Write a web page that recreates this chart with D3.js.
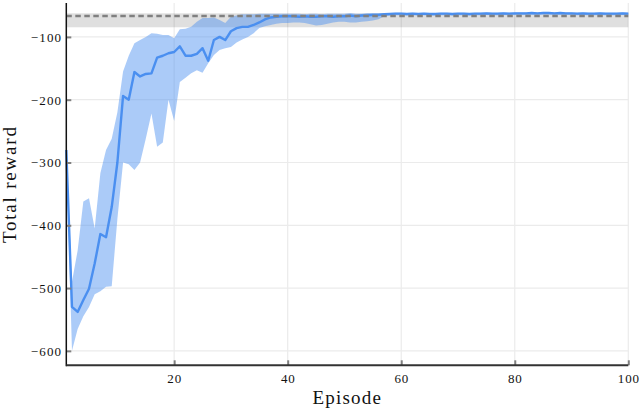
<!DOCTYPE html>
<html>
<head>
<meta charset="utf-8">
<script src="https://cdn.jsdelivr.net/npm/d3@7"></script>
<style>
  html, body { margin: 0; padding: 0; background: #fff; }
  svg { display: block; }
  text { font-family: "Liberation Serif", "DejaVu Serif", serif; fill: #111; }
</style>
</head>
<body>
<svg id="chart" width="640" height="410"></svg>
<script>
// ---- data ----
const episodes = d3.range(1, 101);
const meanReward = [
  -280, -530, -538, -519, -501, -461, -414, -419, -371, -300,
  -194, -200, -156, -163, -159, -158, -133, -130, -126, -124,
  -115, -130, -130, -127, -118, -138, -105, -100, -105, -91,
  -86, -84, -84, -81, -77, -72, -69, -68, -67, -67,
  -67, -68, -67, -68, -68, -67, -67, -68, -67, -67,
  -66, -67, -66, -66, -65, -65, -64, -63.5, -63, -63,
  -63.5, -63, -63.5, -63, -63.5, -63.5, -63, -63, -63.5, -63,
  -63, -63.5, -63, -63, -62.5, -63, -63, -62.5, -63, -62.5,
  -62.5, -62.5, -62, -62.5, -62, -62, -62.5, -62, -62.5, -62.5,
  -63, -62.5, -63, -63, -62.5, -63, -63, -63, -62.5, -63
];
const upperReward = [
  -275, -490, -440, -362, -357, -405, -317, -280, -262, -220,
  -155, -130, -110, -105, -100, -94, -95, -97, -97, -102,
  -88, -87, -84, -76, -70, -70, -69, -73, -78, -68,
  -66, -64, -64, -64, -63, -63, -63, -63, -63, -63,
  -63, -63, -64, -63, -63, -64, -63, -63, -63, -63,
  -62, -63, -63, -62, -62, -62, -62, -62, -61.5, -61.5,
  -62, -61.5, -62, -61.5, -62, -62, -61.5, -61.5, -62, -61.5,
  -61.5, -62, -61.5, -61.5, -61, -61.5, -61.5, -61, -61.5, -61,
  -61, -61, -60.5, -61, -60.5, -60.5, -61, -60.5, -61, -61,
  -61.5, -61, -61.5, -61.5, -61, -61.5, -61.5, -61.5, -61, -61.5
];
const lowerReward = [
  -285, -600, -565, -545, -530, -510, -505, -498, -497, -390,
  -300, -303, -312, -300, -262, -222, -275, -268, -200, -234,
  -172, -165, -158, -153, -157, -142, -129, -121, -118, -116,
  -109, -104, -100, -94, -86, -83, -81, -79, -78, -78,
  -77, -77, -78, -80, -82, -81, -79, -77, -76, -76,
  -77, -77, -76, -75, -74, -72, -67, -66, -65.5, -65.5,
  -66, -65.5, -66, -65.5, -66, -66, -65.5, -65.5, -66, -65.5,
  -65.5, -66, -65.5, -65.5, -65, -65.5, -65.5, -65, -65.5, -65,
  -65, -65, -64.5, -65, -64.5, -64.5, -65, -64.5, -65, -65,
  -65.5, -65, -65.5, -65.5, -65, -65.5, -65.5, -65.5, -65, -65.5
];
const referenceLevel = -66.7;
const referenceBand = [-84.7, -62.4];
const xTicks = [20, 40, 60, 80, 100];
const yTicks = [-600, -500, -400, -300, -200, -100];
const xLabel = "Episode";
const yLabel = "Total reward";

// ---- layout ----
const svg = d3.select("#chart");
const L = 66.3, R = 628.3, T = 3, B = 365.3;
const x = d3.scaleLinear().domain([1, 100]).range([L, R]);
const y = d3.scaleLinear().domain([-623, -46]).range([B, T]);

const rows = episodes.map((e, i) => ({ e, m: meanReward[i], lo: lowerReward[i], hi: upperReward[i] }));

// grid
const grid = svg.append("g");
grid.selectAll("line.gx").data(xTicks).join("line")
  .attr("x1", d => x(d)).attr("x2", d => x(d)).attr("y1", T).attr("y2", B)
  .attr("stroke", "#ebebeb").attr("stroke-width", 1.2);
grid.selectAll("line.gy").data(yTicks).join("line")
  .attr("x1", L).attr("x2", R).attr("y1", d => y(d)).attr("y2", d => y(d))
  .attr("stroke", "#ebebeb").attr("stroke-width", 1.2);

// reference band
svg.append("rect")
  .attr("x", L).attr("width", R - L)
  .attr("y", y(referenceBand[1])).attr("height", y(referenceBand[0]) - y(referenceBand[1]))
  .attr("fill", "#000").attr("fill-opacity", 0.125);

// ribbon
const area = d3.area().x(d => x(d.e)).y0(d => y(d.lo)).y1(d => y(d.hi));
svg.append("path").datum(rows).attr("d", area)
  .attr("fill", "#4f93f0").attr("fill-opacity", 0.48);

// mean line
const line = d3.line().x(d => x(d.e)).y(d => y(d.m));
svg.append("path").datum(rows).attr("d", line)
  .attr("fill", "none").attr("stroke", "#4a8ff0").attr("stroke-width", 2.4)
  .attr("stroke-linejoin", "round");

// reference dashed line
svg.append("line")
  .attr("x1", L).attr("x2", R).attr("y1", y(referenceLevel)).attr("y2", y(referenceLevel))
  .attr("stroke", "#808080").attr("stroke-width", 2.4).attr("stroke-dasharray", "5.5,3.5");

// axes
const yAxis = svg.append("g").attr("transform", `translate(${L},0)`)
  .call(d3.axisLeft(y).tickValues(yTicks).tickSize(-5).tickPadding(4).tickFormat(d3.format("d")));
yAxis.select(".domain").remove();
yAxis.selectAll(".tick line").attr("stroke", "#808080").attr("stroke-width", 2);
yAxis.selectAll(".tick text")
  .style("font-family", '"Liberation Serif", serif').style("font-size", "13px")
  .style("letter-spacing", "1.2px").attr("fill", "#111").attr("dy", "0.34em");

const xAxis = svg.append("g").attr("transform", `translate(0,${B})`)
  .call(d3.axisBottom(x).tickValues(xTicks).tickSize(-5).tickPadding(8).tickFormat(d3.format("d")));
xAxis.select(".domain").remove();
xAxis.selectAll(".tick line").attr("stroke", "#808080").attr("stroke-width", 2);
xAxis.selectAll(".tick text")
  .style("font-family", '"Liberation Serif", serif').style("font-size", "13px")
  .style("letter-spacing", "0.8px").attr("fill", "#111");

svg.append("line").attr("x1", L).attr("x2", L).attr("y1", T).attr("y2", B + 1)
  .attr("stroke", "#111").attr("stroke-width", 1.5);
svg.append("line").attr("x1", L).attr("x2", R).attr("y1", B).attr("y2", B)
  .attr("stroke", "#333").attr("stroke-width", 2);

// labels
svg.append("text").attr("x", (L + R) / 2).attr("y", 404).attr("text-anchor", "middle")
  .style("font-size", "19px").style("letter-spacing", "1.2px").text(xLabel);
svg.append("text").attr("transform", `translate(16,${(T + B) / 2}) rotate(-90)`)
  .attr("text-anchor", "middle")
  .style("font-size", "19px").style("letter-spacing", "1.8px").text(yLabel);
</script>
</body>
</html>
